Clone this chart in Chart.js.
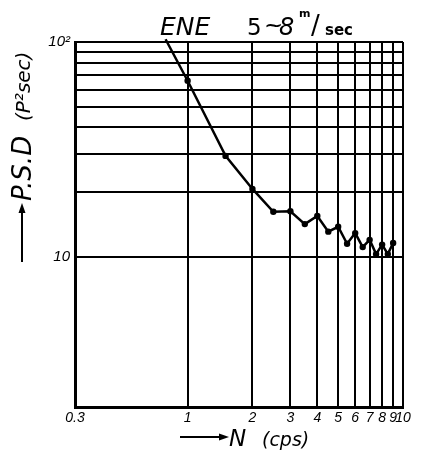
<!DOCTYPE html>
<html>
<head>
<meta charset="utf-8">
<script src="https://cdn.jsdelivr.net/npm/chart.js@4"></script>
<style>
  html, body { margin: 0; padding: 0; background: #fff; }
  canvas { display: block; }
</style>
</head>
<body>
<canvas id="psd-chart" width="423" height="452"></canvas>
<script>
// frequency N (cps) and power spectral density
const freq = [0.79, 1, 1.5, 2, 2.5, 3, 3.5, 4, 4.5, 5, 5.5, 6, 6.5, 7, 7.5, 8, 8.5, 9];
const psd = [103, 66, 29.5, 20.7, 16.2, 16.3, 14.2, 15.5, 13.1, 13.8, 11.5, 12.9, 11.1, 12.0, 10.3, 11.4, 10.3, 11.6];

const xTicks = [0.3, 1, 2, 3, 4, 5, 6, 7, 8, 9, 10];
const xTickLabels = ['0.3', '1', '2', '3', '4', '5', '6', '7', '8', '9', '10'];
const yGrid = [10, 20, 30, 40, 50, 60, 70, 80, 90, 100];
const yTickLabels = { 10: '10', 100: '10²' };

const handFont = '"DejaVu Sans"';
const tickFont = '"Liberation Sans"';

// title, axis titles and arrows, lettered like the original sheet
const handLabels = {
    id: 'handLabels',
    afterDraw(chart) {
        const ctx = chart.ctx;
        ctx.save();
        ctx.fillStyle = '#000';
        ctx.strokeStyle = '#000';
        ctx.textAlign = 'left';
        ctx.textBaseline = 'alphabetic';

        // title
        ctx.font = 'italic 25px ' + handFont;
        ctx.fillText('ENE', 160, 35);
        ctx.font = '23px ' + handFont;
        ctx.fillText('5', 247, 35);
        ctx.fillText('~', 264, 33);
        ctx.font = 'italic 24px ' + handFont;
        ctx.fillText('8', 279, 35);
        ctx.font = 'bold 11px ' + handFont;
        ctx.fillText('m', 299, 17);
        ctx.font = '26px ' + handFont;
        ctx.fillText('/', 311, 34);
        ctx.font = 'bold 15px ' + handFont;
        ctx.fillText('sec', 325, 35);

        // y title
        ctx.save();
        ctx.translate(31, 201);
        ctx.rotate(-Math.PI / 2);
        ctx.font = 'italic 26px ' + handFont;
        ctx.fillText('P.S.D', 0, 0);
        ctx.font = 'italic 20px ' + handFont;
        ctx.fillText('(P²sec)', 80, -1);
        ctx.restore();
        ctx.lineWidth = 2;
        ctx.beginPath();
        ctx.moveTo(22, 262);
        ctx.lineTo(22, 210);
        ctx.stroke();
        ctx.beginPath();
        ctx.moveTo(22, 203);
        ctx.lineTo(18.5, 213);
        ctx.lineTo(25.5, 213);
        ctx.closePath();
        ctx.fill();

        // x title
        ctx.beginPath();
        ctx.moveTo(180, 437);
        ctx.lineTo(221, 437);
        ctx.stroke();
        ctx.beginPath();
        ctx.moveTo(229, 437);
        ctx.lineTo(219, 433.5);
        ctx.lineTo(219, 440.5);
        ctx.closePath();
        ctx.fill();
        ctx.font = 'italic 23px ' + handFont;
        ctx.fillText('N', 229, 446);
        ctx.font = 'italic 19px ' + handFont;
        ctx.fillText('(cps)', 262, 446);
        ctx.restore();
    }
};

new Chart(
    document.getElementById('psd-chart'),
    {
        type: 'line',
        plugins: [handLabels],
        data: {
            datasets: [
                {
                    data: freq.map((n, i) => ({ x: n, y: psd[i] })),
                    borderColor: '#000',
                    backgroundColor: '#000',
                    borderWidth: 2.5,
                    pointRadius: freq.map((n, i) => i === 0 ? 0 : 3.2),
                    pointBorderWidth: 0,
                    tension: 0,
                    clip: { left: 0, right: 0, top: 4, bottom: 0 }
                }
            ]
        },
        options: {
            responsive: false,
            animation: false,
            layout: {
                padding: { top: 42, right: 20, left: 0, bottom: 0 }
            },
            plugins: {
                legend: { display: false },
                tooltip: { enabled: false }
            },
            scales: {
                x: {
                    type: 'logarithmic',
                    min: 0.3,
                    max: 10,
                    afterBuildTicks: axis => {
                        axis.ticks = xTicks.map(v => ({ value: v }));
                    },
                    afterFit: axis => {
                        axis.height = 45;
                    },
                    ticks: {
                        autoSkip: false,
                        maxRotation: 0,
                        padding: 3,
                        color: '#000',
                        font: { family: tickFont, size: 14, style: 'italic' },
                        callback: (value, index) => xTickLabels[index]
                    },
                    grid: {
                        color: '#000',
                        lineWidth: 2,
                        drawTicks: false
                    },
                    border: { color: '#000', width: 3 }
                },
                y: {
                    type: 'logarithmic',
                    min: 2,
                    max: 100,
                    afterBuildTicks: axis => {
                        axis.ticks = yGrid.map(v => ({ value: v }));
                    },
                    afterFit: axis => {
                        axis.width = 75;
                    },
                    ticks: {
                        autoSkip: false,
                        padding: 5,
                        color: '#000',
                        font: { family: tickFont, size: 15, style: 'italic' },
                        callback: value => yTickLabels[value] || ''
                    },
                    grid: {
                        color: '#000',
                        lineWidth: 2,
                        drawTicks: false
                    },
                    border: { color: '#000', width: 3 }
                }
            }
        }
    }
);
</script>
</body>
</html>
